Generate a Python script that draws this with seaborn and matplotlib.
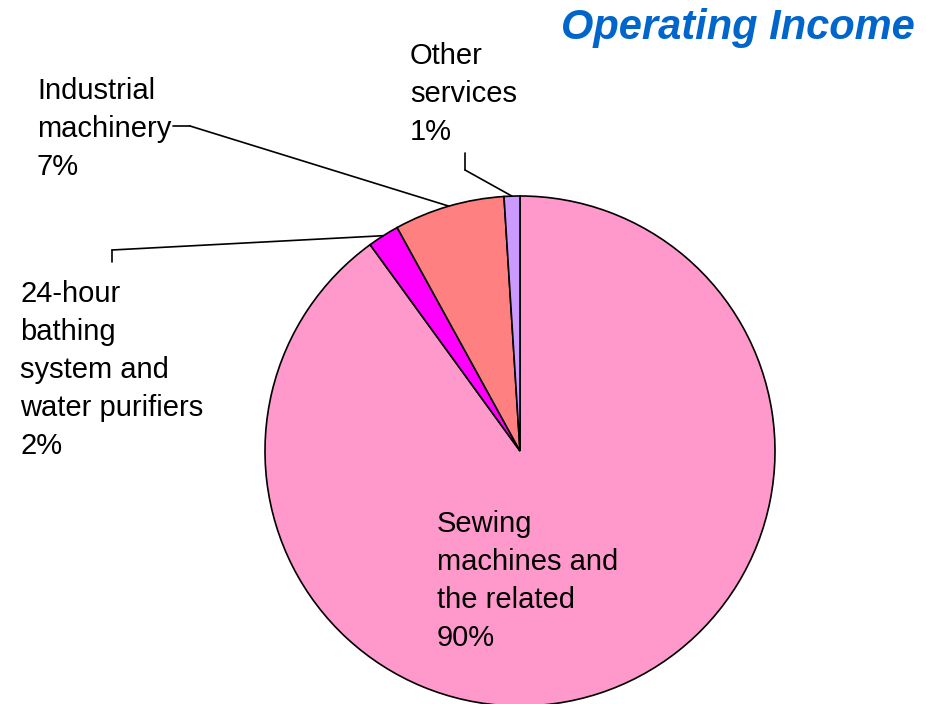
import numpy as np
import matplotlib
matplotlib.use("Agg")
import matplotlib.pyplot as plt
import seaborn as sns
from matplotlib.patches import ConnectionPatch

# data
segments = ["Sewing\nmachines and\nthe related",
            "24-hour\nbathing\nsystem and\nwater purifiers",
            "Industrial\nmachinery",
            "Other\nservices"]
shares = [90, 2, 7, 1]
colors = ["#FF99CC", "#FF00FF", "#FF8080", "#CC99FF"]

sns.set_theme(style="white")
plt.rcParams["font.family"] = ["Liberation Sans", "DejaVu Sans"]

W, H = 926, 704
fig = plt.figure(figsize=(W / 100, H / 100), dpi=100)

# pie axes: centre (520, 451) px, radius 255 px
cx, cy, r = 520, 451, 255
ax = fig.add_axes([(cx - r) / W, (H - cy - r) / H, 2 * r / W, 2 * r / H])
wedges, _ = ax.pie(shares, colors=colors, startangle=90, counterclock=False,
                   wedgeprops=dict(edgecolor="black", linewidth=1.2))
ax.set_xlim(-1, 1)
ax.set_ylim(-1, 1)
ax.set_aspect("equal")
ax.axis("off")

# overlay in pixel coordinates for labels
ov = fig.add_axes([0, 0, 1, 1], zorder=5)
ov.set_xlim(0, W)
ov.set_ylim(H, 0)
ov.axis("off")
ov.patch.set_alpha(0)

fs = 21
ls = 1.46
labels = [f"{s}\n{v}%" for s, v in zip(segments, shares)]
label_pos = [(437, 510), (20, 280), (37, 77), (410, 42)]
for lab, (x, y) in zip(labels, label_pos):
    ov.text(x, y, lab, fontsize=fs, va="top", ha="left", linespacing=ls,
            color="black")

# leader lines: short kink segment in px, then line to wedge mid-arc
kinks = {1: [(112, 262), (112, 250)],
         2: [(173, 126), (190, 126)],
         3: [(465, 153), (465, 170)]}
for i, pts in kinks.items():
    xs, ys = zip(*pts)
    ov.plot(xs, ys, color="black", lw=1.2)
    w = wedges[i]
    mid = np.deg2rad((w.theta1 + w.theta2) / 2)
    con = ConnectionPatch(xyA=pts[-1], coordsA=ov.transData,
                          xyB=(np.cos(mid), np.sin(mid)), coordsB=ax.transData,
                          color="black", lw=1.2)
    fig.add_artist(con)

fig.text(915 / W, 1 - 28 / H, "Operating Income", ha="right", va="center",
         fontsize=30, fontweight="bold", fontstyle="italic", color="#0066CC")

fig.savefig("out.png", dpi=100)
